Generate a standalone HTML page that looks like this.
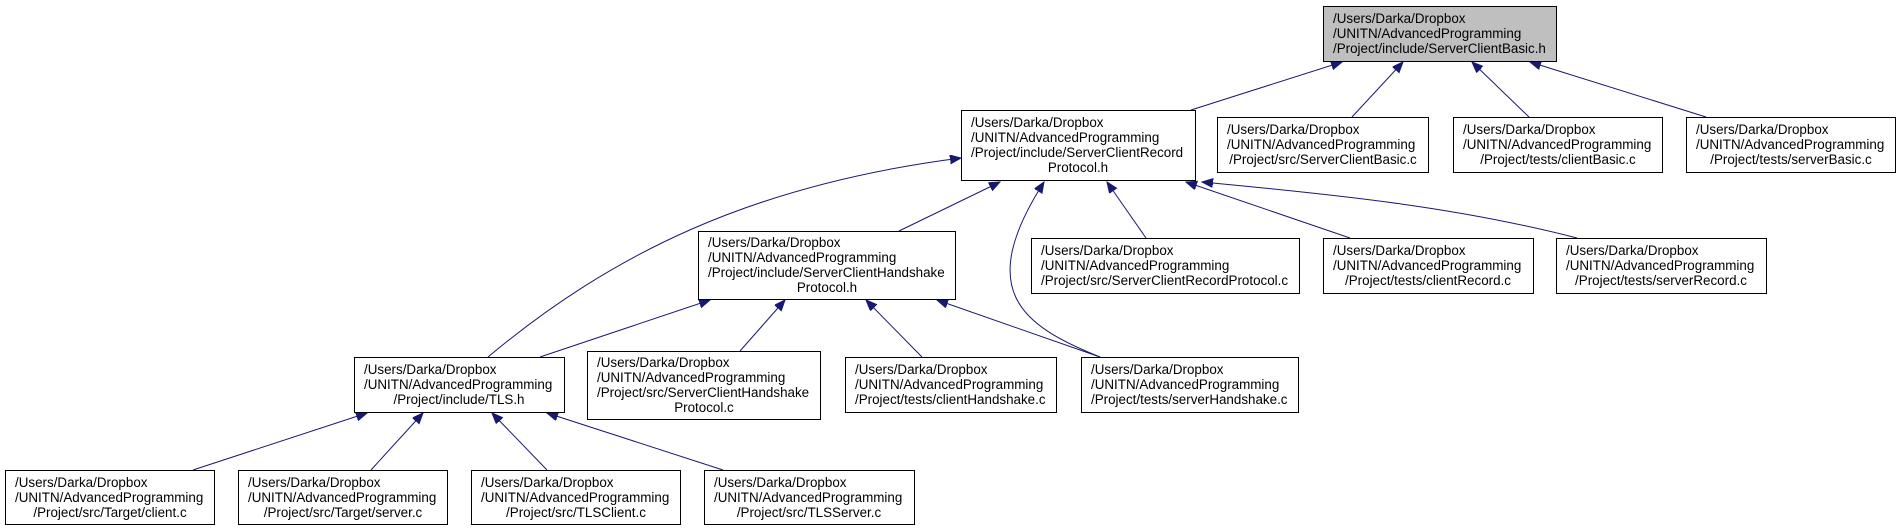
<!DOCTYPE html>
<html><head><meta charset="utf-8"><style>
html,body{margin:0;padding:0;background:#fff;}
svg{display:block;}
text{font-family:"Liberation Sans",sans-serif;font-size:13.4px;fill:#000;}
rect{fill:#fff;stroke:#000;stroke-width:1;}
path.e{fill:none;stroke:#191970;stroke-width:1;}
</style></head><body>
<svg width="1900" height="531" viewBox="0 0 1900 531" xmlns="http://www.w3.org/2000/svg">
<defs>
<marker id="a" markerWidth="12" markerHeight="10" refX="11" refY="4.5" orient="auto" markerUnits="userSpaceOnUse">
<path d="M0,0 L11,4.5 L0,9 Z" fill="#191970" stroke="#191970"/>
</marker>
</defs>

<!-- edges -->
<path class="e" marker-end="url(#a)" d="M1191,110 L1342,62"/>
<path class="e" marker-end="url(#a)" d="M1352,117 L1403,62"/>
<path class="e" marker-end="url(#a)" d="M1529,117 L1472,62"/>
<path class="e" marker-end="url(#a)" d="M1706,117 L1530,62"/>

<path class="e" marker-end="url(#a)" d="M488,357 C610,255 750,185 961,158"/>
<path class="e" marker-end="url(#a)" d="M899,231 L1000,182"/>
<path class="e" marker-end="url(#a)" d="M1100,357 C1020,325 975,290 1044,182"/>
<path class="e" marker-end="url(#a)" d="M1146,238 L1107,182"/>
<path class="e" marker-end="url(#a)" d="M1350,238 L1186,182"/>
<path class="e" marker-end="url(#a)" d="M1577,238 C1460,208 1350,196 1202,182"/>

<path class="e" marker-end="url(#a)" d="M540,357 L710,300"/>
<path class="e" marker-end="url(#a)" d="M740,351 L785,300"/>
<path class="e" marker-end="url(#a)" d="M922,357 L866,300"/>
<path class="e" marker-end="url(#a)" d="M1100,357 L937,300"/>

<path class="e" marker-end="url(#a)" d="M193,470 L367,413"/>
<path class="e" marker-end="url(#a)" d="M371,470 L423,413"/>
<path class="e" marker-end="url(#a)" d="M547,470 L492,413"/>
<path class="e" marker-end="url(#a)" d="M723,470 L547,413"/>

<!-- nodes -->
<rect x="1323.5" y="6.5" width="233" height="55" style="fill:#bfbfbf"/>
<text x="1333" y="23">/Users/Darka/Dropbox</text>
<text x="1333" y="38">/UNITN/AdvancedProgramming</text>
<text x="1333" y="53">/Project/include/ServerClientBasic.h</text>

<rect x="961.5" y="110.5" width="234" height="70"/>
<text x="971" y="127">/Users/Darka/Dropbox</text>
<text x="971" y="142">/UNITN/AdvancedProgramming</text>
<text x="971" y="157">/Project/include/ServerClientRecord</text>
<text x="1078" y="172" text-anchor="middle">Protocol.h</text>

<rect x="1217.5" y="117.5" width="211" height="55"/>
<text x="1227" y="134">/Users/Darka/Dropbox</text>
<text x="1227" y="149">/UNITN/AdvancedProgramming</text>
<text x="1323" y="164" text-anchor="middle">/Project/src/ServerClientBasic.c</text>

<rect x="1453.5" y="117.5" width="209" height="55"/>
<text x="1463" y="134">/Users/Darka/Dropbox</text>
<text x="1463" y="149">/UNITN/AdvancedProgramming</text>
<text x="1558" y="164" text-anchor="middle">/Project/tests/clientBasic.c</text>

<rect x="1686.5" y="117.5" width="209" height="55"/>
<text x="1696" y="134">/Users/Darka/Dropbox</text>
<text x="1696" y="149">/UNITN/AdvancedProgramming</text>
<text x="1791" y="164" text-anchor="middle">/Project/tests/serverBasic.c</text>

<rect x="698.5" y="231.5" width="257" height="68"/>
<text x="708" y="247">/Users/Darka/Dropbox</text>
<text x="708" y="262">/UNITN/AdvancedProgramming</text>
<text x="708" y="277">/Project/include/ServerClientHandshake</text>
<text x="827" y="292" text-anchor="middle">Protocol.h</text>

<rect x="1031.5" y="238.5" width="268" height="55"/>
<text x="1041" y="255">/Users/Darka/Dropbox</text>
<text x="1041" y="270">/UNITN/AdvancedProgramming</text>
<text x="1041" y="285">/Project/src/ServerClientRecordProtocol.c</text>

<rect x="1323.5" y="238.5" width="210" height="55"/>
<text x="1333" y="255">/Users/Darka/Dropbox</text>
<text x="1333" y="270">/UNITN/AdvancedProgramming</text>
<text x="1428" y="285" text-anchor="middle">/Project/tests/clientRecord.c</text>

<rect x="1556.5" y="238.5" width="210" height="55"/>
<text x="1566" y="255">/Users/Darka/Dropbox</text>
<text x="1566" y="270">/UNITN/AdvancedProgramming</text>
<text x="1661" y="285" text-anchor="middle">/Project/tests/serverRecord.c</text>

<rect x="354.5" y="357.5" width="210" height="55"/>
<text x="364" y="374">/Users/Darka/Dropbox</text>
<text x="364" y="389">/UNITN/AdvancedProgramming</text>
<text x="459" y="404" text-anchor="middle">/Project/include/TLS.h</text>

<rect x="587.5" y="351.5" width="233" height="68"/>
<text x="597" y="367">/Users/Darka/Dropbox</text>
<text x="597" y="382">/UNITN/AdvancedProgramming</text>
<text x="597" y="397">/Project/src/ServerClientHandshake</text>
<text x="704" y="412" text-anchor="middle">Protocol.c</text>

<rect x="845.5" y="357.5" width="211" height="55"/>
<text x="855" y="374">/Users/Darka/Dropbox</text>
<text x="855" y="389">/UNITN/AdvancedProgramming</text>
<text x="855" y="404">/Project/tests/clientHandshake.c</text>

<rect x="1081.5" y="357.5" width="217" height="55"/>
<text x="1091" y="374">/Users/Darka/Dropbox</text>
<text x="1091" y="389">/UNITN/AdvancedProgramming</text>
<text x="1091" y="404">/Project/tests/serverHandshake.c</text>

<rect x="5.5" y="470.5" width="209" height="54"/>
<text x="15" y="487">/Users/Darka/Dropbox</text>
<text x="15" y="502">/UNITN/AdvancedProgramming</text>
<text x="110" y="517" text-anchor="middle">/Project/src/Target/client.c</text>

<rect x="238.5" y="470.5" width="209" height="54"/>
<text x="248" y="487">/Users/Darka/Dropbox</text>
<text x="248" y="502">/UNITN/AdvancedProgramming</text>
<text x="343" y="517" text-anchor="middle">/Project/src/Target/server.c</text>

<rect x="471.5" y="470.5" width="209" height="54"/>
<text x="481" y="487">/Users/Darka/Dropbox</text>
<text x="481" y="502">/UNITN/AdvancedProgramming</text>
<text x="576" y="517" text-anchor="middle">/Project/src/TLSClient.c</text>

<rect x="704.5" y="470.5" width="210" height="54"/>
<text x="714" y="487">/Users/Darka/Dropbox</text>
<text x="714" y="502">/UNITN/AdvancedProgramming</text>
<text x="809" y="517" text-anchor="middle">/Project/src/TLSServer.c</text>
</svg>
</body></html>
